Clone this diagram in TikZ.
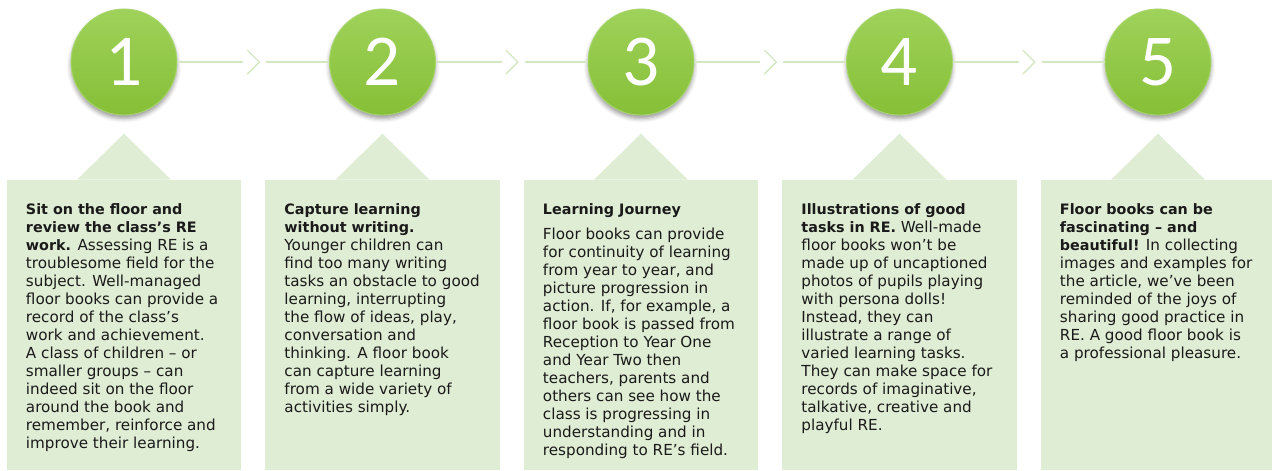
\documentclass[tikz,border=0pt]{standalone}
\usepackage{fontspec}
\usepackage{xcolor}
\usepackage{tikz}
\usetikzlibrary{positioning, calc, shadows.blur}

\setmainfont{DejaVu Sans}
\newfontfamily\numfont{Carlito}

\definecolor{ballTop}{HTML}{9FD25A}
\definecolor{ballBot}{HTML}{86BF37}
\definecolor{ballRim}{HTML}{A8D66E}
\definecolor{cardFill}{HTML}{DFEDD4}
\definecolor{linkGreen}{HTML}{D3E8C2}
\definecolor{ink}{HTML}{1A1A1A}

% bold lead-in of each card, set a little smaller than the body
\newcommand{\headtext}[1]{{\fontsize{10.2}{12.8}\selectfont\bfseries #1}}

\begin{document}
\begin{tikzpicture}[
    x=0.025cm, y=0.025cm,
    ball/.style={circle, minimum size=2.65cm, inner sep=0, draw=ballRim, line width=0.6pt,
        top color=ballTop, bottom color=ballBot, text=white,
        font=\numfont\fontsize{52}{52}\selectfont,
        blur shadow={shadow xshift=0pt, shadow yshift=-2.5pt, shadow blur radius=3pt, shadow opacity=40}},
    card/.style={rectangle, fill=cardFill, minimum width=5.85cm, minimum height=7.25cm, inner sep=0},
    link/.style={draw=linkGreen, line width=1pt},
    body/.style={anchor=north west, inner sep=0, align=left, text=ink,
        font=\fontsize{10.8}{12.8}\selectfont}
]
    \useasboundingbox (0,0) rectangle (1272,-470);

    % Numbered circles
    \node[ball] (c1) at (124,-62) {1};
    \node[ball] (c2) at (382.5,-62) {2};
    \node[ball] (c3) at (641,-62) {3};
    \node[ball] (c4) at (899.5,-62) {4};
    \node[ball] (c5) at (1158,-62) {5};

    % Connectors with chevrons
    \coordinate (m1) at ($(c1.east)!0.5!(c2.west)$);
    \coordinate (m2) at ($(c2.east)!0.5!(c3.west)$);
    \coordinate (m3) at ($(c3.east)!0.5!(c4.west)$);
    \coordinate (m4) at ($(c4.east)!0.5!(c5.west)$);

    \draw[link] (c1.east) -- ($(m1)+(-10,0)$);
    \draw[link] ($(m1)+(-6,12)$) -- ($(m1)+(6,0)$) -- ($(m1)+(-6,-12)$);
    \draw[link] ($(m1)+(13,0)$) -- (c2.west);

    \draw[link] (c2.east) -- ($(m2)+(-10,0)$);
    \draw[link] ($(m2)+(-6,12)$) -- ($(m2)+(6,0)$) -- ($(m2)+(-6,-12)$);
    \draw[link] ($(m2)+(13,0)$) -- (c3.west);

    \draw[link] (c3.east) -- ($(m3)+(-10,0)$);
    \draw[link] ($(m3)+(-6,12)$) -- ($(m3)+(6,0)$) -- ($(m3)+(-6,-12)$);
    \draw[link] ($(m3)+(13,0)$) -- (c4.west);

    \draw[link] (c4.east) -- ($(m4)+(-10,0)$);
    \draw[link] ($(m4)+(-6,12)$) -- ($(m4)+(6,0)$) -- ($(m4)+(-6,-12)$);
    \draw[link] ($(m4)+(13,0)$) -- (c5.west);

    % Cards with their pointers
    \node[card] (b1) at (124,-325) {};
    \node[card] (b2) at (382.5,-325) {};
    \node[card] (b3) at (641,-325) {};
    \node[card] (b4) at (899.5,-325) {};
    \node[card] (b5) at (1158,-325) {};

    \fill[cardFill] ($(b1.north)+(-47,0)$) -- ($(b1.north)+(0,46)$) -- ($(b1.north)+(47,0)$) -- cycle;
    \fill[cardFill] ($(b2.north)+(-47,0)$) -- ($(b2.north)+(0,46)$) -- ($(b2.north)+(47,0)$) -- cycle;
    \fill[cardFill] ($(b3.north)+(-47,0)$) -- ($(b3.north)+(0,46)$) -- ($(b3.north)+(47,0)$) -- cycle;
    \fill[cardFill] ($(b4.north)+(-47,0)$) -- ($(b4.north)+(0,46)$) -- ($(b4.north)+(47,0)$) -- cycle;
    \fill[cardFill] ($(b5.north)+(-47,0)$) -- ($(b5.north)+(0,46)$) -- ($(b5.north)+(47,0)$) -- cycle;

    % Card texts
    \node[body] (t1) at ($(b1.north west)+(19,-24)$) {%
        \headtext{Sit on the floor and}\\
        \headtext{review the class's RE}\\
        \headtext{work.} Assessing RE is a\\
        troublesome field for the\\
        subject. Well-managed\\
        floor books can provide a\\
        record of the class's\\
        work and achievement.\\
        A class of children -- or\\
        smaller groups -- can\\
        indeed sit on the floor\\
        around the book and\\
        remember, reinforce and\\
        improve their learning.};

    \node[body] (t2) at ($(b2.north west)+(19,-24)$) {%
        \headtext{Capture learning}\\
        \headtext{without writing.}\\
        Younger children can\\
        find too many writing\\
        tasks an obstacle to good\\
        learning, interrupting\\
        the flow of ideas, play,\\
        conversation and\\
        thinking. A floor book\\
        can capture learning\\
        from a wide variety of\\
        activities simply.};

    \node[body] (t3) at ($(b3.north west)+(19,-24)$) {%
        \headtext{Learning Journey}\\[4.5pt]
        Floor books can provide\\
        for continuity of learning\\
        from year to year, and\\
        picture progression in\\
        action. If, for example, a\\
        floor book is passed from\\
        Reception to Year One\\
        and Year Two then\\
        teachers, parents and\\
        others can see how the\\
        class is progressing in\\
        understanding and in\\
        responding to RE's field.};

    \node[body] (t4) at ($(b4.north west)+(19,-24)$) {%
        \headtext{Illustrations of good}\\
        \headtext{tasks in RE.} Well-made\\
        floor books won't be\\
        made up of uncaptioned\\
        photos of pupils playing\\
        with persona dolls!\\
        Instead, they can\\
        illustrate a range of\\
        varied learning tasks.\\
        They can make space for\\
        records of imaginative,\\
        talkative, creative and\\
        playful RE.};

    \node[body] (t5) at ($(b5.north west)+(19,-24)$) {%
        \headtext{Floor books can be}\\
        \headtext{fascinating -- and}\\
        \headtext{beautiful!} In collecting\\
        images and examples for\\
        the article, we've been\\
        reminded of the joys of\\
        sharing good practice in\\
        RE. A good floor book is\\
        a professional pleasure.};
\end{tikzpicture}
\end{document}
